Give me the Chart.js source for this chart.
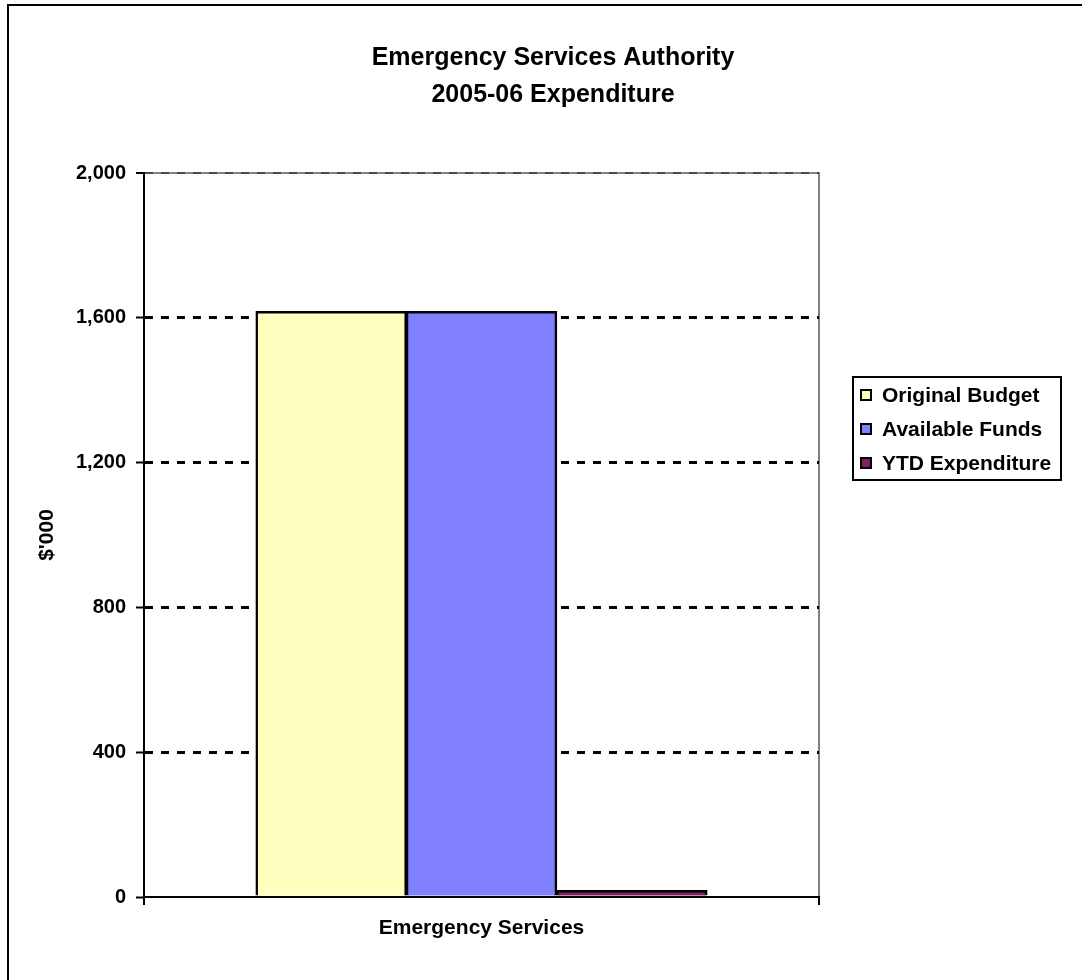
<!DOCTYPE html>
<html>
<head>
<meta charset="utf-8">
<title>Emergency Services Authority 2005-06 Expenditure</title>
<script src="https://cdn.jsdelivr.net/npm/chart.js@4.4.1/dist/chart.umd.min.js"></script>
<style>
    html, body { margin: 0; padding: 0; background: #fff; }
    #wrap { width: 1082px; height: 980px; }
    canvas { background: #fff; }
</style>
</head>
<body>
<div id="wrap"><canvas id="expChart" width="1082" height="980"></canvas></div>
<script>
// Chart data
const categories = ['Emergency Services'];
const seriesNames = ['Original Budget', 'Available Funds', 'YTD Expenditure'];
const originalBudget = [1617];
const availableFunds = [1617];
const ytdExpenditure = [18];
const seriesColors = ['#FFFFC0', '#8080FF', '#7F1F5F'];
const yTicks = [0, 400, 800, 1200, 1600, 2000];

const FONT = '"Liberation Sans", Arial, Helvetica, sans-serif';

// Grey plot frame, outer border and the boxed legend
const frameAndLegend = {
    id: 'frameAndLegend',
    beforeDraw(chart) {
        const ctx = chart.ctx;
        const a = chart.chartArea;
        ctx.save();
        ctx.strokeStyle = '#808080';
        ctx.lineWidth = 2;
        ctx.beginPath();
        ctx.moveTo(a.left, a.top);
        ctx.lineTo(a.right, a.top);
        ctx.lineTo(a.right, a.bottom);
        ctx.stroke();
        ctx.restore();
    },
    afterDraw(chart) {
        const ctx = chart.ctx;
        ctx.save();
        // outer border (right and bottom edges run off the picture)
        ctx.strokeStyle = '#000';
        ctx.lineWidth = 2;
        ctx.strokeRect(8, 5, chart.width + 20, chart.height + 20);

        // legend
        const x = chart.chartArea.right + 34;
        const y = 377;
        ctx.strokeRect(x, y, 208, 103);
        ctx.font = 'bold 21px ' + FONT;
        ctx.textBaseline = 'middle';
        ctx.textAlign = 'left';
        chart.data.datasets.forEach((ds, i) => {
            const cy = y + 18 + i * 34;
            ctx.fillStyle = ds.backgroundColor;
            ctx.fillRect(x + 8, cy - 5, 10, 10);
            ctx.lineWidth = 2;
            ctx.strokeStyle = '#000';
            ctx.strokeRect(x + 8, cy - 5, 10, 10);
            ctx.fillStyle = '#000';
            ctx.fillText(ds.label, x + 29, cy + 1);
        });
        ctx.restore();
    }
};

const seriesData = [originalBudget, availableFunds, ytdExpenditure];

new Chart(document.getElementById('expChart'), {
    type: 'bar',
    data: {
        labels: categories,
        datasets: seriesNames.map((name, i) => ({
            label: name,
            data: seriesData[i],
            backgroundColor: seriesColors[i],
            borderColor: '#000',
            borderWidth: 2.5,
            inflateAmount: 0.6,
            categoryPercentage: 0.668,
            barPercentage: 1
        }))
    },
    options: {
        responsive: false,
        animation: false,
        layout: {
            padding: { left: 24, right: 0, top: 0, bottom: 0 }
        },
        plugins: {
            legend: { display: false },
            tooltip: { enabled: false },
            title: {
                display: true,
                text: ['Emergency Services Authority', '2005-06 Expenditure'],
                color: '#000',
                font: { family: FONT, size: 25, weight: 'bold', lineHeight: 1.48 },
                padding: { top: 40, bottom: 59 }
            }
        },
        scales: {
            x: {
                grid: {
                    display: true,
                    drawOnChartArea: false,
                    drawTicks: true,
                    tickLength: 8,
                    color: '#000',
                    lineWidth: 2,
                    offset: true
                },
                border: { display: true, color: '#000', width: 2 },
                ticks: {
                    color: '#000',
                    padding: 11,
                    font: { family: FONT, size: 21, weight: 'bold' }
                },
                afterFit(scale) { scale.height = 83; }
            },
            y: {
                min: 0,
                max: 2000,
                afterBuildTicks(scale) {
                    scale.ticks = yTicks.map(v => ({ value: v }));
                },
                grid: {
                    // no dashes over the x axis; the top one sits on the grey frame
                    color: c => c.tick && c.tick.value === 0 ? 'rgba(0,0,0,0)'
                        : (c.tick && c.tick.value === 2000 ? '#4a4a4a' : '#000'),
                    lineWidth: c => c.tick && c.tick.value === 2000 ? 2 : 3,
                    drawTicks: true,
                    tickLength: 8,
                    tickColor: '#000',
                    tickWidth: 2,
                    tickBorderDash: []
                },
                border: { display: true, color: '#000', width: 2, dash: [8, 8] },
                ticks: {
                    color: '#000',
                    padding: 10,
                    font: { family: FONT, size: 20, weight: 'bold' },
                    callback: v => v.toLocaleString('en-US')
                },
                title: {
                    display: true,
                    text: "$'000",
                    color: '#000',
                    font: { family: FONT, size: 21, weight: 'bold' },
                    padding: { top: 11, bottom: 0 }
                },
                afterFit(scale) { scale.width = 120; }
            },
            // empty right-hand space where the legend sits
            side: {
                type: 'linear',
                position: 'right',
                display: true,
                grid: { display: false, drawTicks: false },
                border: { display: false },
                ticks: { display: false },
                afterFit(scale) { scale.width = 263; }
            }
        }
    },
    plugins: [frameAndLegend]
});
</script>
</body>
</html>
